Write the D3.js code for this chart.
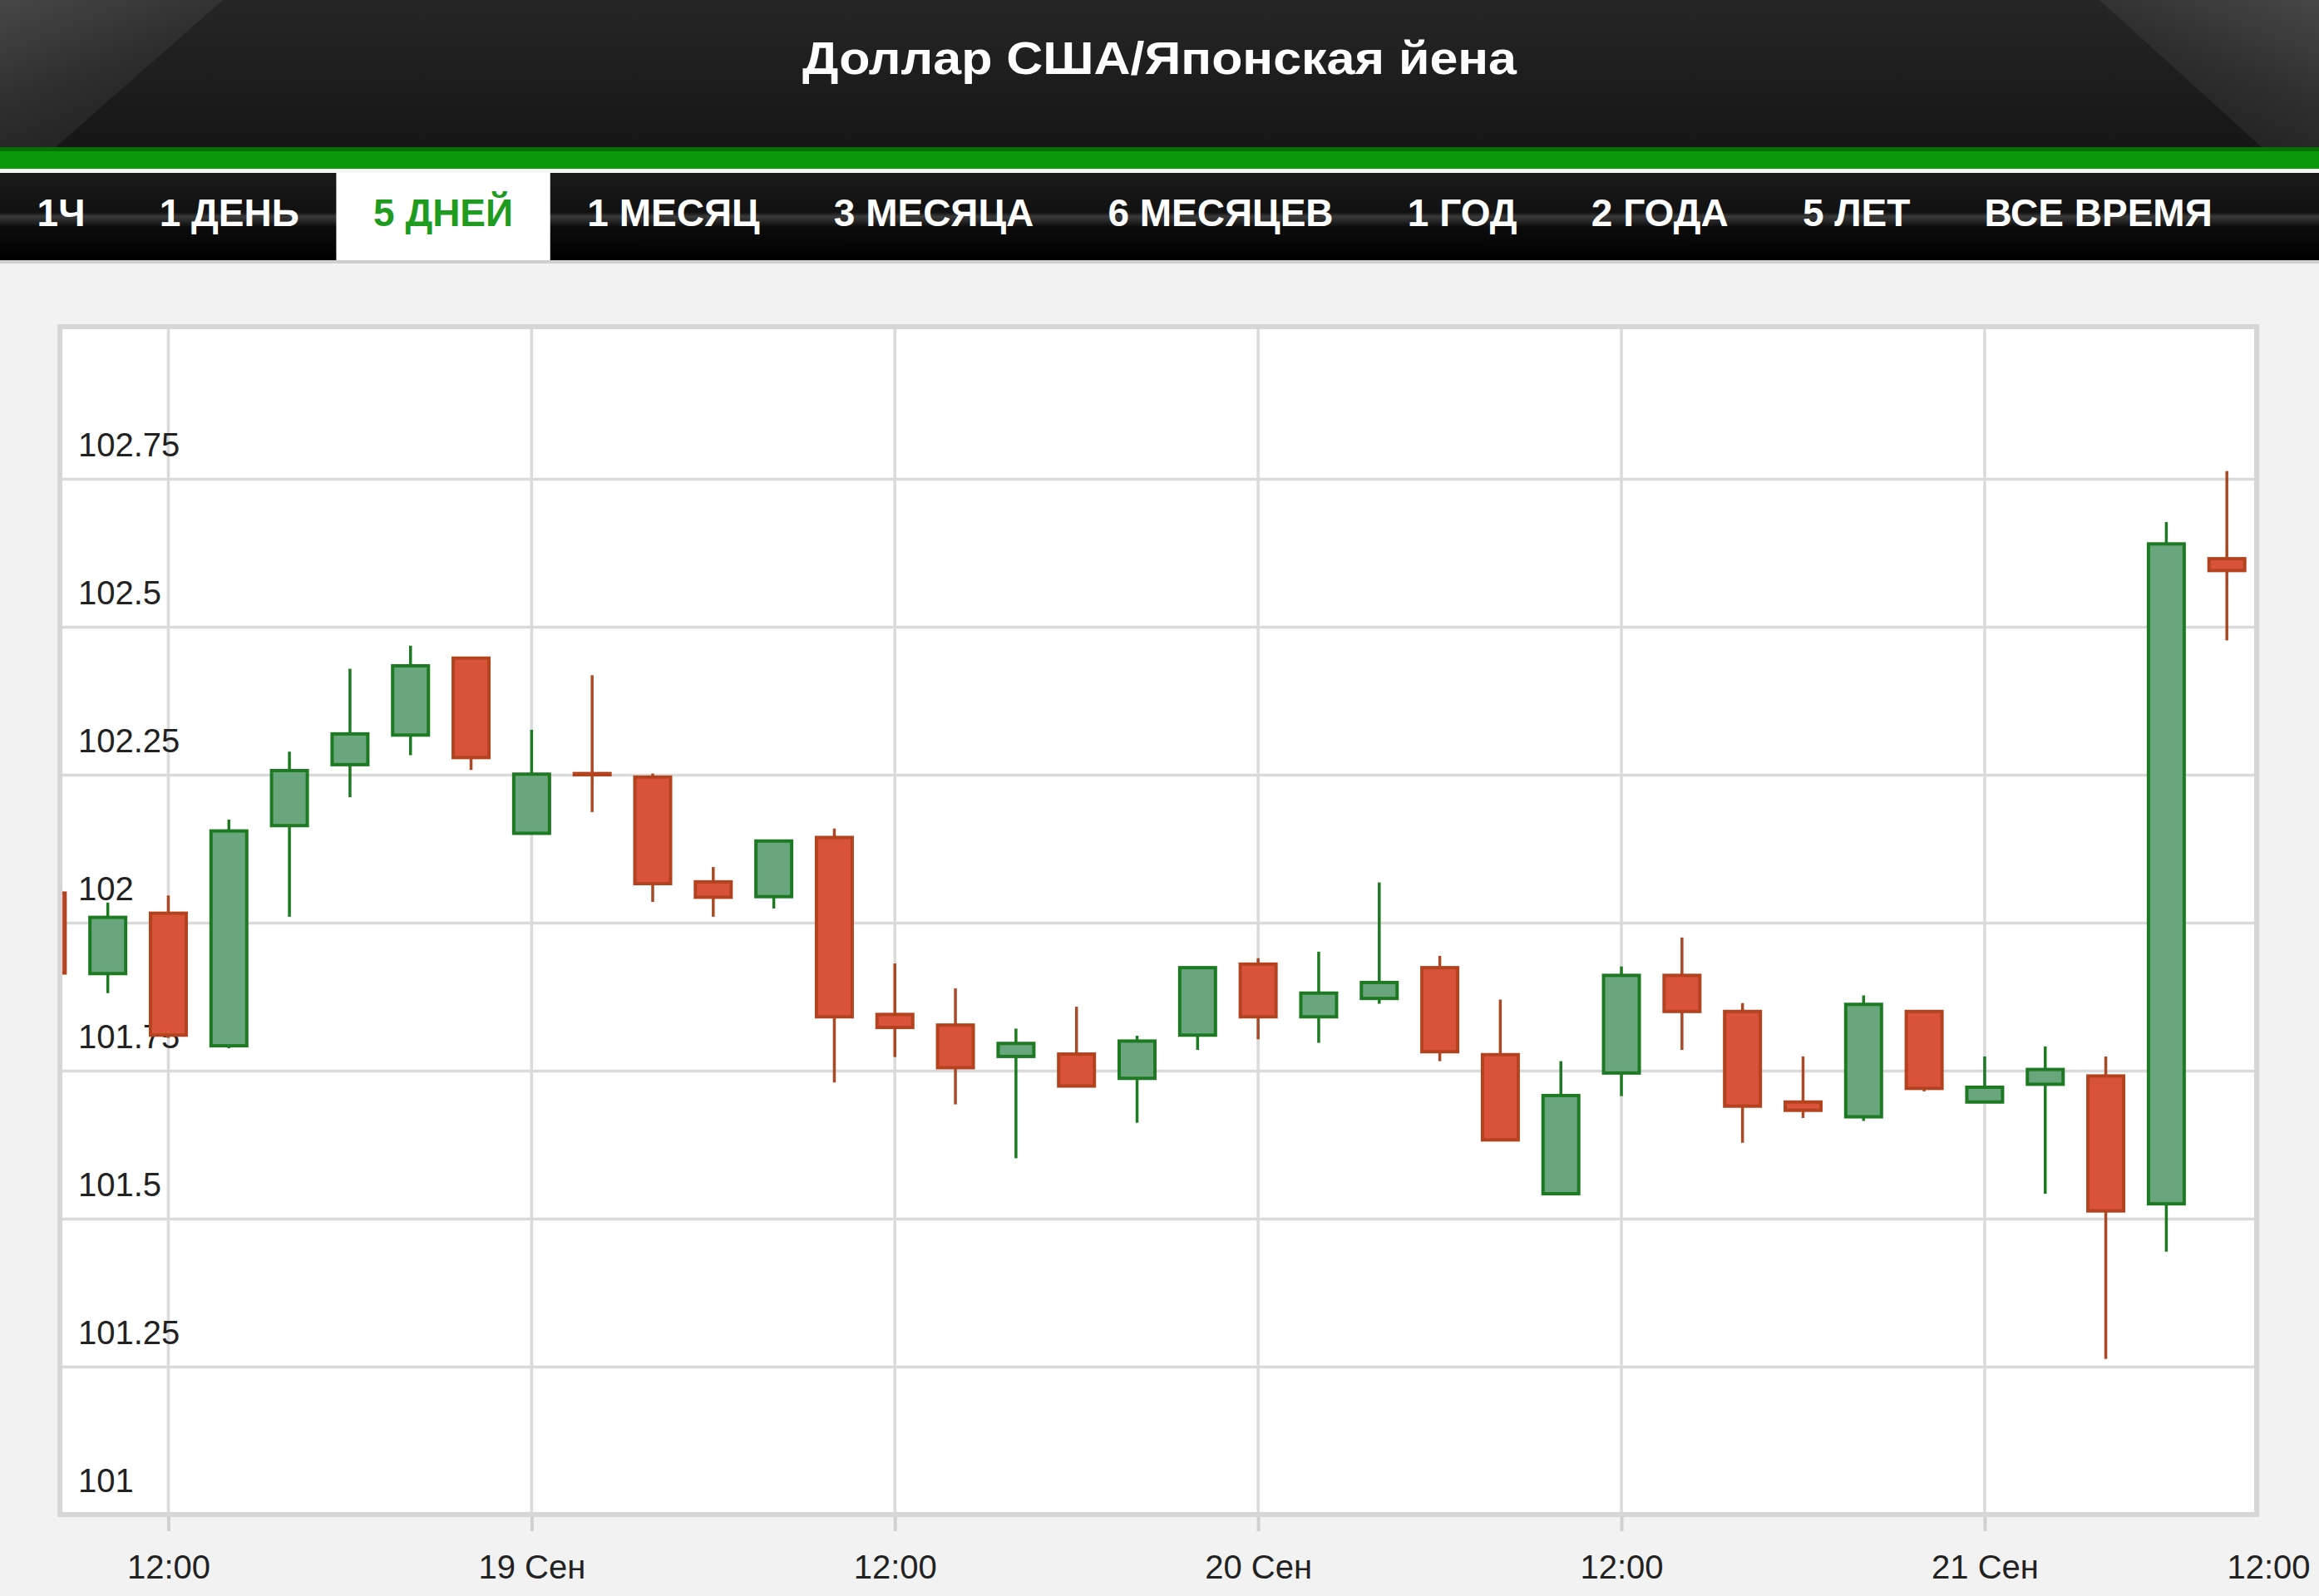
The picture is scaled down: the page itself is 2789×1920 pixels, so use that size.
<!DOCTYPE html>
<html><head><meta charset="utf-8">
<script src="https://cdnjs.cloudflare.com/ajax/libs/d3/7.8.5/d3.min.js"></script>
<style>html,body{margin:0;padding:0;background:#f2f2f2;overflow:hidden}svg{display:block}</style>
</head><body><svg id="c" width="2789" height="1920"></svg>
<script>
// ---------- DATA ----------
const title = "Доллар США/Японская йена";
const tabs = ["1Ч","1 ДЕНЬ","5 ДНЕЙ","1 МЕСЯЦ","3 МЕСЯЦА","6 МЕСЯЦЕВ","1 ГОД","2 ГОДА","5 ЛЕТ","ВСЕ ВРЕМЯ"];
const activeTab = "5 ДНЕЙ";

const times = [
 "2016-09-18T08:00","2016-09-18T10:00","2016-09-18T12:00","2016-09-18T14:00","2016-09-18T16:00",
 "2016-09-18T18:00","2016-09-18T20:00","2016-09-18T22:00","2016-09-19T00:00","2016-09-19T02:00",
 "2016-09-19T04:00","2016-09-19T06:00","2016-09-19T08:00","2016-09-19T10:00","2016-09-19T12:00",
 "2016-09-19T14:00","2016-09-19T16:00","2016-09-19T18:00","2016-09-19T20:00","2016-09-19T22:00",
 "2016-09-20T00:00","2016-09-20T02:00","2016-09-20T04:00","2016-09-20T06:00","2016-09-20T08:00",
 "2016-09-20T10:00","2016-09-20T12:00","2016-09-20T14:00","2016-09-20T16:00","2016-09-20T18:00",
 "2016-09-20T20:00","2016-09-20T22:00","2016-09-21T00:00","2016-09-21T02:00","2016-09-21T04:00",
 "2016-09-21T06:00","2016-09-21T08:00"];
const open  = [102.050,101.914,102.016,101.792,102.164,102.267,102.317,102.447,102.151,102.252,
               102.246,102.069,102.044,102.144,101.845,101.827,101.774,101.778,101.737,101.810,
               101.930,101.841,101.872,101.924,101.777,101.542,101.746,101.911,101.850,101.697,
               101.672,101.850,101.697,101.727,101.741,101.525,102.615];
const high  = [102.080,102.034,102.046,102.174,102.289,102.429,102.468,102.447,102.326,102.418,
               102.252,102.094,102.140,102.159,101.931,101.889,101.821,101.858,101.809,101.926,
               101.940,101.951,102.068,101.944,101.870,101.766,101.926,101.975,101.864,101.774,
               101.877,101.850,101.774,101.791,101.774,102.677,102.763];
const low   = [101.890,101.881,101.805,101.788,102.010,102.212,102.283,102.258,102.150,102.187,
               102.035,102.010,102.024,101.730,101.773,101.693,101.602,101.722,101.662,101.785,
               101.803,101.797,101.863,101.766,101.633,101.542,101.707,101.785,101.628,101.670,
               101.665,101.715,101.697,101.542,101.263,101.444,102.477];
const close = [101.915,102.009,101.810,102.155,102.257,102.319,102.434,102.279,102.251,102.250,
               102.066,102.043,102.138,101.841,101.823,101.755,101.796,101.724,101.800,101.924,
               101.841,101.881,101.899,101.782,101.633,101.708,101.911,101.850,101.690,101.683,
               101.862,101.720,101.722,101.752,101.513,102.640,102.595];

const xDomain = ["2016-09-18T08:25","2016-09-21T08:59"];
const yDomain = [101, 103];
const yTicks = [101, 101.25, 101.5, 101.75, 102, 102.25, 102.5, 102.75];
const xTickTimes  = ["2016-09-18T12:00","2016-09-19T00:00","2016-09-19T12:00","2016-09-20T00:00","2016-09-20T12:00","2016-09-21T00:00","2016-09-21T12:00"];
const xTickLabels = ["12:00","19 Сен","12:00","20 Сен","12:00","21 Сен","12:00"];

// ---------- LAYOUT ----------
const W = 2789, H = 1920;
const plot = {left:72, right:2714, top:393, bottom:1822, yTop:398};
const svg = d3.select("#c");
const defs = svg.append("defs");
const FONT = "'Liberation Sans', Arial, sans-serif";

function lg(id, stops, x1=0,y1=0,x2=0,y2=1){
  const g = defs.append("linearGradient").attr("id", id)
    .attr("x1",x1).attr("y1",y1).attr("x2",x2).attr("y2",y2);
  stops.forEach(s=>g.append("stop").attr("offset",s[0]).attr("stop-color",s[1]));
}
lg("hdr", [[0,"#262626"],[1,"#161616"]]);
lg("hdrL", [[0,"#474747"],[0.55,"#2e2e2e"],[1,"#1f1f1f"]],0,0,0.6,1);
lg("hdrR", [[0,"#474747"],[0.55,"#2e2e2e"],[1,"#1f1f1f"]],1,0,0.4,1);
lg("tabbar", [[0,"#1a1a1a"],[0.45,"#111"],[0.5,"#3a3a3a"],[0.62,"#0c0c0c"],[1,"#000"]]);

// page bg
svg.append("rect").attr("width",W).attr("height",H).attr("fill","#f2f2f2");

// header
svg.append("rect").attr("x",0).attr("y",0).attr("width",W).attr("height",177).attr("fill","url(#hdr)");
svg.append("path").attr("d","M0,0 L268,0 L67,177 L0,177 Z").attr("fill","url(#hdrL)");
svg.append("path").attr("d","M2525,0 L2789,0 L2789,177 L2720,177 Z").attr("fill","url(#hdrR)");
svg.append("text").attr("x",W/2).attr("y",89).attr("text-anchor","middle")
  .attr("font-family",FONT).attr("font-weight","bold").attr("font-size",56)
  .attr("fill","#fff").attr("textLength",859).attr("lengthAdjust","spacingAndGlyphs").text(title);

// green bar
svg.append("rect").attr("x",0).attr("y",177).attr("width",W).attr("height",26).attr("fill","#0b990b");
svg.append("rect").attr("x",0).attr("y",177).attr("width",W).attr("height",5).attr("fill","#067006");
svg.append("rect").attr("x",0).attr("y",203).attr("width",W).attr("height",5).attr("fill","#f6f6f6");
// tab bar
svg.append("rect").attr("x",0).attr("y",208).attr("width",W).attr("height",105).attr("fill","url(#tabbar)");
svg.append("rect").attr("x",0).attr("y",313).attr("width",W).attr("height",4).attr("fill","#cfcfcf");

const tabG = svg.append("g");
let cx = 0;
const PAD = 44.6;
tabs.forEach(t=>{
  const txt = tabG.append("text").attr("font-family",FONT).attr("font-weight","bold")
    .attr("font-size",46).attr("y",272).attr("text-anchor","start").text(t);
  const w = txt.node().getComputedTextLength();
  if (t === activeTab){
    tabG.insert("rect","text").attr("x",cx).attr("y",208).attr("width",w+2*PAD).attr("height",105).attr("fill","#fff");
    txt.attr("fill","#1f9b1f");
  } else txt.attr("fill","#fff");
  txt.attr("x", cx+PAD);
  cx += w + 2*PAD;
});

// ---------- CHART ----------
const x = d3.scaleTime().domain(xDomain.map(d=>new Date(d))).range([plot.left, plot.right]);
const y = d3.scaleLinear().domain(yDomain).range([plot.bottom, plot.yTop]);

svg.append("rect").attr("x",plot.left).attr("y",plot.top).attr("width",plot.right-plot.left)
  .attr("height",plot.bottom-plot.top).attr("fill","#fff");

// vertical grid
const xt = xTickTimes.map(d=>new Date(d));
const inside = xt.filter(d=>x(d)>=plot.left && x(d)<=plot.right);
svg.append("g").selectAll("line").data(inside).join("line")
  .attr("x1",d=>x(d)).attr("x2",d=>x(d)).attr("y1",plot.top).attr("y2",plot.bottom)
  .attr("stroke","#dadada").attr("stroke-width",3.5);

// horizontal grid + labels
const yAxis = d3.axisLeft(y).tickValues(yTicks).tickSize(-(plot.right-plot.left)).tickFormat(d3.format(""));
const gy = svg.append("g").attr("transform",`translate(${plot.left},0)`).call(yAxis);
gy.select(".domain").remove();
gy.selectAll(".tick line").attr("stroke","#dadada").attr("stroke-width",3.5);
gy.selectAll(".tick text").attr("x",22).attr("dy",0).attr("y",-28).attr("text-anchor","start")
  .attr("font-family",FONT).attr("font-size",40).attr("fill","#222");

// x axis
const xAxis = d3.axisBottom(x).tickValues(xt).tickSize(20)
  .tickFormat((d,i)=>xTickLabels[i]);
const gx = svg.append("g").attr("transform",`translate(0,${plot.bottom})`).call(xAxis);
gx.select(".domain").remove();
gx.selectAll(".tick line").attr("stroke","#d0d0d0").attr("stroke-width",4)
  .attr("display",d=>x(d)>plot.right?"none":null);
gx.selectAll(".tick text").attr("y",77).attr("dy",0)
  .attr("font-family",FONT).attr("font-size",40).attr("fill","#222");
gx.selectAll(".tick").each(function(d){
  const t = d3.select(this).select("text");
  const w = t.node().getComputedTextLength();
  const px = x(d);
  const maxC = W - 11 - w/2;
  if (px > maxC) t.attr("x", maxC - px);
});

// candles
defs.append("clipPath").attr("id","pc").append("rect")
  .attr("x",plot.left+3).attr("y",plot.top).attr("width",plot.right-plot.left-3).attr("height",plot.bottom-plot.top);
const data = times.map((t,i)=>({t:new Date(t),o:open[i],h:high[i],l:low[i],c:close[i]}));
const UP = {fill:"#69a67d", stroke:"#1d7a22", wick:"#1d7a22"};
const DN = {fill:"#d9533b", stroke:"#b3431f", wick:"#a84a27"};
const BW = 43;
const cg = svg.append("g").attr("clip-path","url(#pc)");
const cs = cg.selectAll("g").data(data).join("g");
cs.append("line").attr("x1",d=>x(d.t)).attr("x2",d=>x(d.t))
  .attr("y1",d=>y(d.h)).attr("y2",d=>y(d.l))
  .attr("stroke",d=>d.c>=d.o?UP.wick:DN.wick).attr("stroke-width",3.5);
cs.append("rect").attr("x",d=>x(d.t)-BW/2).attr("width",BW)
  .attr("y",d=>y(Math.max(d.o,d.c))).attr("height",d=>Math.abs(y(d.o)-y(d.c)))
  .attr("fill",d=>d.c>=d.o?UP.fill:DN.fill)
  .attr("stroke",d=>d.c>=d.o?UP.stroke:DN.stroke).attr("stroke-width",4);

// frame
svg.append("rect").attr("x",plot.left).attr("y",plot.top).attr("width",plot.right-plot.left)
  .attr("height",plot.bottom-plot.top).attr("fill","none").attr("stroke","#d6d6d6").attr("stroke-width",6);
</script></body></html>
